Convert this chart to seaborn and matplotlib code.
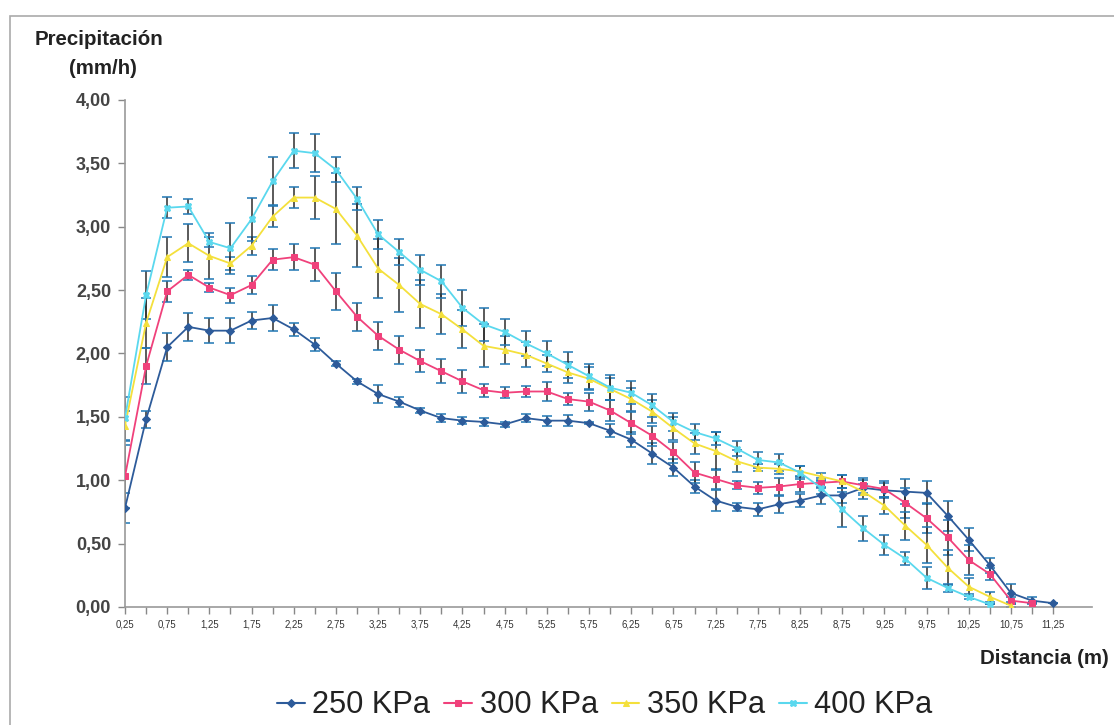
import matplotlib
matplotlib.use("Agg")
import matplotlib.pyplot as plt
from matplotlib import font_manager
from matplotlib.patches import Rectangle
import numpy as np
import pandas as pd
import seaborn as sns

# --- datos ---
distancia = [0.25, 0.50, 0.75, 1.00, 1.25, 1.50, 1.75, 2.00, 2.25, 2.50,
             2.75, 3.00, 3.25, 3.50, 3.75, 4.00, 4.25, 4.50, 4.75, 5.00,
             5.25, 5.50, 5.75, 6.00, 6.25, 6.50, 6.75, 7.00, 7.25, 7.50,
             7.75, 8.00, 8.25, 8.50, 8.75, 9.00, 9.25, 9.50, 9.75, 10.00,
             10.25, 10.50, 10.75, 11.00, 11.25]

p250 = [0.78, 1.48, 2.05, 2.21, 2.18, 2.18, 2.26, 2.28, 2.19, 2.07,
        1.92, 1.78, 1.68, 1.62, 1.55, 1.49, 1.47, 1.46, 1.44, 1.49,
        1.47, 1.47, 1.45, 1.39, 1.32, 1.21, 1.10, 0.95, 0.84, 0.79,
        0.77, 0.81, 0.84, 0.88, 0.88, 0.94, 0.92, 0.91, 0.90, 0.72,
        0.53, 0.33, 0.11, 0.05, 0.03]
e250 = [0.12, 0.07, 0.11, 0.11, 0.10, 0.10, 0.07, 0.10, 0.05, 0.05,
        0.02, 0.02, 0.07, 0.04, 0.02, 0.03, 0.03, 0.03, 0.02, 0.03,
        0.04, 0.045, 0.01, 0.05, 0.06, 0.08, 0.07, 0.05, 0.085, 0.03,
        0.05, 0.065, 0.05, 0.065, 0.06, 0.06, 0.06, 0.10, 0.09, 0.12,
        0.09, 0.06, 0.07, 0.03, 0.0]

p300 = [1.03, 1.90, 2.49, 2.62, 2.52, 2.46, 2.54, 2.74, 2.76, 2.70,
        2.49, 2.29, 2.14, 2.03, 1.94, 1.86, 1.78, 1.71, 1.69, 1.70,
        1.70, 1.64, 1.62, 1.55, 1.45, 1.35, 1.22, 1.06, 1.01, 0.96,
        0.94, 0.95, 0.97, 0.98, 0.99, 0.96, 0.93, 0.82, 0.70, 0.55,
        0.37, 0.26, 0.05, 0.03, np.nan]
e300 = [0.25, 0.14, 0.08, 0.04, 0.035, 0.06, 0.07, 0.085, 0.10, 0.13,
        0.145, 0.11, 0.11, 0.11, 0.085, 0.095, 0.09, 0.05, 0.045, 0.04,
        0.075, 0.045, 0.07, 0.08, 0.085, 0.08, 0.085, 0.08, 0.08, 0.03,
        0.045, 0.065, 0.06, 0.04, 0.05, 0.06, 0.065, 0.12, 0.12, 0.14,
        0.12, 0.05, 0.03, 0.0, np.nan]

p350 = [1.43, 2.24, 2.76, 2.87, 2.77, 2.71, 2.85, 3.08, 3.23, 3.23,
        3.14, 2.93, 2.67, 2.54, 2.39, 2.31, 2.19, 2.06, 2.03, 1.99,
        1.92, 1.85, 1.80, 1.72, 1.64, 1.54, 1.41, 1.29, 1.23, 1.15,
        1.10, 1.09, 1.07, 1.03, 0.99, 0.91, 0.80, 0.64, 0.49, 0.31,
        0.16, 0.08, 0.01, np.nan, np.nan]
e350 = [0.12, 0.20, 0.16, 0.15, 0.18, 0.05, 0.07, 0.08, 0.08, 0.17,
        0.28, 0.25, 0.23, 0.21, 0.19, 0.16, 0.15, 0.17, 0.11, 0.10,
        0.065, 0.08, 0.09, 0.09, 0.09, 0.09, 0.09, 0.085, 0.15, 0.085,
        0.03, 0.04, 0.045, 0.03, 0.05, 0.06, 0.07, 0.11, 0.14, 0.14,
        0.07, 0.04, 0.01, np.nan, np.nan]

p400 = [1.49, 2.46, 3.15, 3.16, 2.88, 2.83, 3.06, 3.36, 3.60, 3.58,
        3.45, 3.22, 2.94, 2.80, 2.66, 2.57, 2.36, 2.23, 2.17, 2.08,
        2.00, 1.91, 1.82, 1.73, 1.69, 1.59, 1.46, 1.38, 1.33, 1.25,
        1.16, 1.14, 1.06, 0.94, 0.77, 0.62, 0.49, 0.38, 0.23, 0.15,
        0.08, 0.02, np.nan, np.nan, np.nan]
e400 = [0.17, 0.19, 0.085, 0.06, 0.04, 0.20, 0.17, 0.19, 0.14, 0.15,
        0.10, 0.09, 0.115, 0.10, 0.12, 0.13, 0.14, 0.13, 0.10, 0.10,
        0.10, 0.10, 0.10, 0.10, 0.09, 0.09, 0.07, 0.06, 0.05, 0.06,
        0.065, 0.07, 0.05, 0.05, 0.14, 0.10, 0.08, 0.05, 0.085, 0.03,
        0.02, 0.0, np.nan, np.nan, np.nan]

series = ['250 KPa', '300 KPa', '350 KPa', '400 KPa']
x_tick_pos = distancia[::2]
x_tick_labels = [f"{v:.2f}".replace('.', ',') for v in x_tick_pos]
y_ticks = [0.0, 0.5, 1.0, 1.5, 2.0, 2.5, 3.0, 3.5, 4.0]
y_tick_labels = [f"{v:.2f}".replace('.', ',') for v in y_ticks]

colores = {'250 KPa': '#2d5b9a', '300 KPa': '#f0417b',
           '350 KPa': '#f4e03c', '400 KPa': '#5ad8ee'}
marcas = {'250 KPa': 'D', '300 KPa': 's', '350 KPa': '^', '400 KPa': 'X'}

df = pd.concat([
    pd.DataFrame({'Distancia': distancia, 'Precipitacion': v, 'err': e, 'Presion': s})
    for s, v, e in zip(series, [p250, p300, p350, p400], [e250, e300, e350, e400])
], ignore_index=True)

# --- fuentes ---
sns.set_style('white')
disponibles = {f.name for f in font_manager.fontManager.ttflist}
narrow = 'Liberation Sans Narrow' in disponibles
fam_narrow = ['Liberation Sans Narrow', 'Liberation Sans', 'DejaVu Sans'] if narrow else ['Liberation Sans', 'DejaVu Sans']
plt.rcParams['font.family'] = ['Liberation Sans', 'DejaVu Sans']
k = 1.0 if narrow else 0.82

fig = plt.figure(figsize=(11.14, 7.25), dpi=100)
ax = fig.add_axes([0.1122, 0.1628, 0.8680, 0.6993])

# barras de error por debajo de las lineas
for s in series:
    d = df[df['Presion'] == s].dropna()
    ax.errorbar(d['Distancia'], d['Precipitacion'], yerr=d['err'], fmt='none',
                ecolor='#2e2e2e', elinewidth=1.1, capsize=3.4, capthick=1.1, zorder=2)

sns.lineplot(data=df.dropna(), x='Distancia', y='Precipitacion', hue='Presion',
             style='Presion', hue_order=series, style_order=series,
             palette=colores, markers=marcas, dashes=False,
             linewidth=1.3, markersize=4.5, ax=ax, zorder=3)

for ln in ax.lines:
    c = ln.get_color()
    ln.set_markeredgecolor(c)
    ln.set_markerfacecolor(c)

handles, labels = ax.get_legend_handles_labels()
ax.get_legend().remove()
for h in handles:
    c = h.get_color()
    h.set_markeredgecolor(c)
    h.set_markerfacecolor(c)
    h.set_markersize(4.5)
    h.set_linewidth(1.5)

ax.set_xlim(0.25, 11.71)
ax.set_ylim(0, 4)
ax.set_xticks(x_tick_pos)
ax.set_xticks(distancia, minor=True)
ax.set_xticklabels(x_tick_labels, fontsize=8.5 * k, color='#333333', family=fam_narrow)
ax.set_yticks(y_ticks)
ax.set_yticklabels(y_tick_labels, fontsize=13, color='#444444', fontweight='bold')
ax.tick_params(axis='x', which='both', direction='out', length=5, width=1,
               color='#888888', pad=4, bottom=True)
ax.tick_params(axis='y', direction='out', length=5, width=1, color='#888888', pad=5, left=True)
ax.set_xlabel('')
ax.set_ylabel('')
ax.grid(False)
sns.despine(ax=ax)
for sp in ['left', 'bottom']:
    ax.spines[sp].set_color('#999999')
    ax.spines[sp].set_linewidth(1.2)

fig.text(0.031, 0.945, 'Precipitación', fontsize=18 * k, fontweight='bold',
         family=fam_narrow, color='#222222', va='center', ha='left')
fig.text(0.092, 0.906, '(mm/h)', fontsize=18 * k, fontweight='bold',
         family=fam_narrow, color='#222222', va='center', ha='center')
fig.text(0.995, 0.092, 'Distancia (m)', fontsize=18 * k, fontweight='bold',
         family=fam_narrow, color='#222222', va='center', ha='right')

fig.legend(handles, labels, loc='center', bbox_to_anchor=(0.543, 0.027), ncol=4,
           frameon=False, handlelength=0.9, handletextpad=0.25, columnspacing=0.45,
           prop={'family': fam_narrow, 'size': 27 * k}, labelcolor='#222222')

fig.patches.append(Rectangle((0.009, -0.05), 1.2, 0.978 + 0.05, transform=fig.transFigure,
                             fill=False, edgecolor='#aaaaaa', linewidth=1.2))

fig.savefig('out.png', dpi=100, facecolor='white')
